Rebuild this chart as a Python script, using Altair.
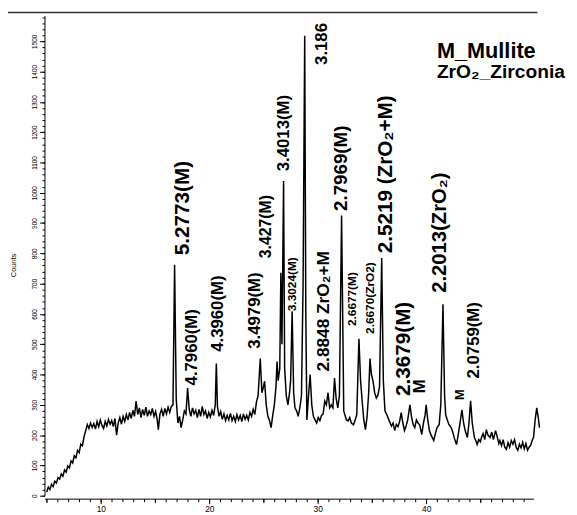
import altair as alt
import pandas as pd

# ---- XRD pattern (2-theta, counts) ----
two_theta = [
    5.0, 5.15, 5.3, 5.45, 5.6, 5.75, 5.9, 6.05, 6.2, 6.35, 6.5, 6.65, 6.8, 6.95, 7.1, 7.25, 7.4, 7.55, 7.7, 7.85,
    8.0, 8.15, 8.3, 8.45, 8.6, 8.75, 8.9, 9.05, 9.2, 9.35, 9.5, 9.65, 9.8, 9.95, 10.1, 10.25, 10.4, 10.55, 10.7, 10.85,
    11.0, 11.15, 11.3, 11.45, 11.6, 11.75, 11.9, 12.05, 12.2, 12.35, 12.5, 12.65, 12.8, 12.95, 13.1, 13.25, 13.4, 13.55, 13.7, 13.85,
    14.0, 14.15, 14.3, 14.45, 14.6, 14.75, 14.9, 15.05, 15.2, 15.3, 15.45, 15.6, 15.75, 15.9, 16.05, 16.2, 16.35, 16.5, 16.65, 16.8,
    16.95, 17.1, 17.25, 17.4, 17.55, 17.7, 17.85, 18.0, 18.15, 18.3, 18.45, 18.6, 18.75, 18.9, 19.05, 19.2, 19.35, 19.5, 19.65, 19.8,
    19.95, 20.1, 20.25, 20.4, 20.55, 20.65, 20.75, 20.9, 21.05, 21.2, 21.35, 21.5, 21.65, 21.8, 21.95, 22.1, 22.25, 22.4, 22.55, 22.7,
    22.85, 23.0, 23.15, 23.3, 23.45, 23.6, 23.75, 23.9, 24.05, 24.2, 24.35, 24.5, 24.7, 24.85, 25.0, 25.1, 25.25, 25.4, 25.55, 25.7,
    25.85, 26.0, 26.15, 26.25, 26.35, 26.5, 26.6, 26.7, 26.85, 26.95, 27.1, 27.25, 27.4, 27.5, 27.64, 27.78, 27.9, 28.05, 28.2, 28.35,
    28.5, 28.65, 28.8, 28.9, 29.0, 29.15, 29.3, 29.45, 29.6, 29.75, 29.9, 30.05, 30.2, 30.35, 30.5, 30.65, 30.8, 30.95, 31.1, 31.25,
    31.4, 31.55, 31.7, 31.85, 32.0, 32.2, 32.4, 32.5, 32.65, 32.8, 32.95, 33.1, 33.3, 33.45, 33.6, 33.8, 33.95, 34.1, 34.25, 34.4,
    34.55, 34.7, 34.82, 34.95, 35.1, 35.25, 35.4, 35.55, 35.7, 35.9, 36.05, 36.2, 36.4, 36.6, 36.8, 36.95, 37.1, 37.25, 37.4, 37.55,
    37.7, 37.85, 38.0, 38.15, 38.3, 38.5, 38.65, 38.8, 38.95, 39.1, 39.25, 39.4, 39.6, 39.75, 39.9, 40.0, 40.15, 40.3, 40.45, 40.6,
    40.7, 40.85, 41.0, 41.2, 41.35, 41.55, 41.7, 41.8, 41.95, 42.1, 42.3, 42.45, 42.6, 42.8, 42.95, 43.1, 43.3, 43.45, 43.6, 43.8,
    43.95, 44.1, 44.25, 44.45, 44.6, 44.7, 44.85, 45.0, 45.1, 45.25, 45.4, 45.55, 45.7, 45.9, 46.05, 46.2, 46.4, 46.55, 46.7, 46.8,
    46.95, 47.1, 47.25, 47.4, 47.55, 47.7, 47.85, 48.0, 48.15, 48.3, 48.45, 48.6, 48.75, 48.9, 49.05, 49.2, 49.35, 49.5, 49.65, 49.8,
    49.9, 50.05, 50.2, 50.35, 50.45,
]
counts = [
    12, 28, 20, 38, 30, 48, 42, 60, 55, 72, 64, 85, 78, 98, 92, 115, 108, 132, 125, 150,
    142, 170, 165, 195, 215, 235, 222, 240, 225, 238, 220, 245, 228, 250, 232, 222, 245, 230, 252, 236,
    248, 228, 255, 200, 240, 258, 236, 262, 245, 268, 250, 275, 255, 282, 262, 312, 268, 290, 258, 285,
    265, 292, 262, 280, 268, 288, 262, 278, 250, 218, 270, 285, 262, 288, 270, 292, 275, 295, 300, 762,
    320, 240, 262, 225, 250, 280, 270, 355, 285, 262, 290, 270, 282, 258, 285, 262, 295, 268, 280, 255,
    275, 260, 282, 265, 300, 436, 295, 262, 278, 252, 270, 248, 265, 250, 272, 248, 262, 245, 268, 250,
    265, 245, 270, 252, 265, 250, 275, 262, 285, 268, 310, 330, 453, 340, 360, 378, 300, 262, 248, 225,
    265, 300, 360, 443, 380, 420, 736, 500, 1039, 420, 330, 300, 340, 380, 609, 340, 290, 280, 262, 290,
    330, 700, 1518, 600, 250, 330, 400, 300, 262, 250, 240, 258, 248, 265, 270, 312, 300, 340, 290, 300,
    290, 388, 320, 290, 330, 925, 280, 267, 250, 247, 258, 240, 234, 250, 267, 518, 380, 312, 250, 218,
    260, 340, 453, 400, 378, 340, 322, 332, 360, 785, 380, 280, 265, 247, 230, 240, 215, 235, 228, 245,
    274, 240, 215, 230, 250, 300, 260, 235, 225, 250, 240, 234, 202, 240, 265, 300, 250, 215, 200, 190,
    182, 205, 225, 234, 300, 632, 330, 267, 250, 235, 225, 210, 190, 169, 200, 235, 283, 240, 215, 192,
    240, 313, 240, 192, 180, 169, 185, 178, 192, 205, 185, 218, 200, 192, 210, 185, 215, 195, 172, 182,
    165, 185, 160, 153, 175, 160, 182, 170, 185, 160, 150, 170, 158, 176, 155, 172, 150, 160, 168, 185,
    192, 250, 290, 255, 225,
]

# ---- peak annotations ----
peak_labels = [
    "5.2773(M)", "4.7960(M)", "4.3960(M)", "3.4979(M)", "3.427(M)", "3.3024(M)",
    "3.4013(M)", "3.186", "2.8848 ZrO₂+M", "2.7969(M)", "2.6677(M)", "2.6670(ZrO2)",
    "2.5219 (ZrO₂+M)", "2.3679(M)", "M", "2.2013(ZrO₂)", "M", "2.0759(M)",
]
label_x = [17.55, 18.45, 20.82, 24.18, 25.27, 27.64, 26.91, 30.36, 30.55, 32.18, 33.18, 34.82,
           36.27, 38.0, 39.45, 41.27, 43.09, 44.45]
label_y = [794, 364, 475, 485, 784, 609, 1071, 1422, 410, 940, 560, 534,
           800, 329, 338, 670, 316, 387]
label_size = [21, 17, 17, 17, 16, 12, 17, 17, 17.5, 19, 12, 12,
              21, 21, 17, 20.5, 13, 17]

legend_lines = ["M_Mullite", "ZrO₂_Zirconia"]

x_major = [10, 20, 30, 40]
x_mid = [5, 15, 25, 35, 45]
x_minor = list(range(5, 50))
y_major = [0, 100, 200, 300, 400, 500, 600, 700, 800, 900, 1000, 1100, 1200, 1300, 1400, 1500]
y_minor = list(range(0, 1581, 20))

df = pd.DataFrame({"x": two_theta, "y": counts})
lab = pd.DataFrame({"text": peak_labels, "x": label_x, "y": label_y, "size": label_size})
one = pd.DataFrame({"a": [0]})

FONT = "Liberation Sans, Arial, sans-serif"
xs = alt.Scale(domain=[4.8, 49.9], nice=False, zero=False)
ys = alt.Scale(domain=[0, 1585], nice=False, zero=False)

line = alt.Chart(df).mark_line(color="black", strokeWidth=1.5, clip=False).encode(
    x=alt.X("x:Q", scale=xs, axis=alt.Axis(
        orient="bottom", values=x_major, tickSize=5, labelFontSize=8.5, labelPadding=1,
        labelFont=FONT, labelColor="black", domainColor="black", tickColor="black",
        title=None, grid=False, offset=3, labelFlush=False, format="d")),
    y=alt.Y("y:Q", scale=ys, axis=alt.Axis(
        orient="left", values=y_major, tickSize=5, labelFontSize=6.5, labelPadding=2,
        labelAngle=270, labelAlign="center", labelBaseline="bottom", labelFont=FONT,
        labelColor="black", domainColor="black", tickColor="black", grid=False, format="d",
        title="Counts", titleFont=FONT, titleFontSize=7.5, titleFontWeight="normal",
        titleColor="black", titleAngle=270, titleX=-31, titleY=253, titleAlign="center",
        titleBaseline="middle", labelFlush=False)),
)

minor = alt.Chart(df).mark_line(opacity=0).encode(
    x=alt.X("x:Q", scale=xs, axis=alt.Axis(
        orient="bottom", values=x_minor, tickSize=3, labels=False, domain=False,
        tickColor="black", title=None, grid=False, offset=3)),
    y=alt.Y("y:Q", scale=ys, axis=alt.Axis(
        orient="left", values=y_minor, tickSize=2.5, labels=False, domain=False,
        tickColor="black", title=None, grid=False)),
)

mid = alt.Chart(df).mark_line(opacity=0).encode(
    x=alt.X("x:Q", scale=xs, axis=alt.Axis(
        orient="bottom", values=x_mid, tickSize=4, labels=False, domain=False,
        tickColor="black", title=None, grid=False, offset=3)),
    y=alt.Y("y:Q", scale=ys, axis=None),
)

texts = alt.Chart(lab).mark_text(
    angle=270, align="left", baseline="middle", fontWeight="bold", font=FONT,
    color="black", clip=False,
).encode(
    x=alt.X("x:Q", scale=xs, axis=None),
    y=alt.Y("y:Q", scale=ys, axis=None),
    text="text:N",
    size=alt.Size("size:Q", scale=None, legend=None),
)

leg1 = alt.Chart(one).mark_text(
    align="left", baseline="alphabetic", fontWeight="bold", font=FONT, fontSize=22, color="black"
).encode(x=alt.value(398), y=alt.value(43), text=alt.value(legend_lines[0]))
leg2 = alt.Chart(one).mark_text(
    align="left", baseline="alphabetic", fontWeight="bold", font=FONT, fontSize=19.5, color="black"
).encode(x=alt.value(398), y=alt.value(63), text=alt.value(legend_lines[1]))

top_rule = alt.Chart(one).mark_rule(color="#333333", strokeWidth=1.5).encode(
    x=alt.value(-37), x2=alt.value(500), y=alt.value(-3))

chart = alt.layer(line, minor, mid, texts, leg1, leg2, top_rule).resolve_axis(
    x="independent", y="independent"
).properties(
    width=496, height=487,
    autosize=alt.AutoSizeParams(type="none"),
    padding={"left": 37, "top": 4, "right": 36, "bottom": 22},
    background="white",
).configure_view(stroke=None)

chart.save("out.html", embed_options={"renderer": "svg", "actions": False})
